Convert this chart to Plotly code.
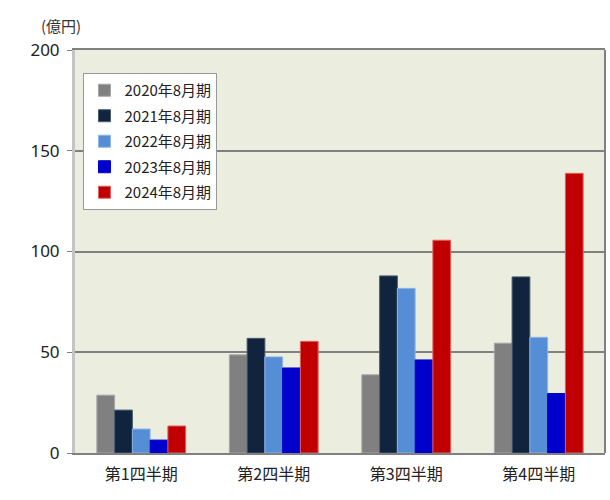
import plotly.graph_objects as go

categories = ["第1四半期", "第2四半期", "第3四半期", "第4四半期"]
series_names = ["2020年8月期", "2021年8月期", "2022年8月期", "2023年8月期", "2024年8月期"]
v2020 = [28.7, 48.7, 38.8, 54.5]
v2021 = [21.3, 56.9, 87.9, 87.4]
v2022 = [11.9, 47.7, 81.7, 57.4]
v2023 = [6.4, 42.2, 46.2, 29.5]
v2024 = [13.4, 55.4, 105.6, 138.8]
values = [v2020, v2021, v2022, v2023, v2024]
colors = ["#808080", "#10243E", "#558ED5", "#0000CC", "#C00000"]
line_colors = ["#A6A6A6", "#4A5A70", "#8CB4E6", "#0000CC", "#E06060"]
y_ticks = [0, 50, 100, 150, 200]

FONT = "Noto Sans CJK JP"

fig = go.Figure()
for i, (name, vals, c, lc) in enumerate(zip(series_names, values, colors, line_colors)):
    fig.add_trace(go.Bar(
        x=categories, y=vals, name=name, legendgroup=f"g{i}",
        marker=dict(color=c, line=dict(color=lc, width=1)),
    ))

fig.update_layout(
    width=610, height=500,
    margin=dict(l=75, r=5, t=50, b=47),
    paper_bgcolor="white",
    plot_bgcolor="#EBEEDE",
    barmode="group",
    bargap=0.33,
    bargroupgap=0,
    font=dict(family=FONT, color="#222222"),
    showlegend=True,
    legend=dict(
        x=0.016, y=0.943, xanchor="left", yanchor="top",
        bgcolor="white", bordercolor="#999999", borderwidth=1,
        font=dict(family=FONT, size=15, color="#222222"),
        itemwidth=30, tracegroupgap=3,
        traceorder="grouped",
    ),
    annotations=[dict(
        text="(億円)", xref="paper", yref="paper", x=-0.026, y=1.062,
        xanchor="center", yanchor="middle", showarrow=False,
        font=dict(family=FONT, size=15, color="#333333"),
    )],
    shapes=[dict(type="line", xref="paper", yref="paper", x0=1, x1=1, y0=0, y1=1,
                 line=dict(color="#808080", width=2))],
)

fig.update_xaxes(
    showline=True, linecolor="#808080", linewidth=2, mirror=True,
    ticks="", showgrid=False, ticklabelstandoff=6,
    tickfont=dict(family=FONT, size=16, color="#222222"),
)
fig.update_yaxes(
    range=[0, 200], tickvals=y_ticks, ticktext=[str(t) for t in y_ticks],
    showgrid=True, gridcolor="#808080", gridwidth=1.5,
    showline=True, linecolor="#C4C4C4", linewidth=3,
    ticks="outside", ticklen=5, tickcolor="#808080", tickwidth=1,
    ticklabelstandoff=4,
    tickfont=dict(family="Noto Sans", size=17, color="#222222"),
    zeroline=False,
)

fig.write_html("out.html")
